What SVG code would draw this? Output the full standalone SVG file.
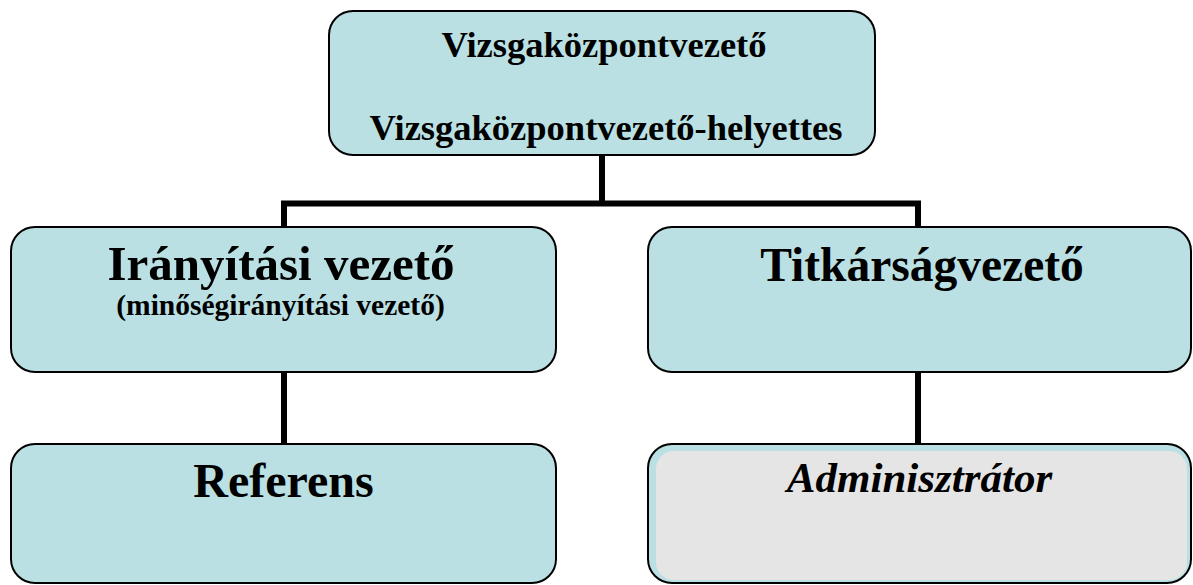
<svg xmlns="http://www.w3.org/2000/svg" width="1193" height="585" viewBox="0 0 1193 585">
  <style>
    .box { fill: #bae0e3; stroke: #000; stroke-width: 2; }
    .t { font-family: "Liberation Serif", "Times New Roman", serif; fill: #000; text-anchor: middle; }
    .b { font-weight: bold; }
    .conn { stroke: #000; stroke-width: 6; fill: none; stroke-linecap: butt; }
  </style>
  <rect width="1193" height="585" fill="#fff"/>
  <g id="connectors">
    <line class="conn" x1="602" y1="155" x2="602" y2="203.5"/>
    <line class="conn" x1="281" y1="203.5" x2="921" y2="203.5"/>
    <line class="conn" x1="284" y1="203.5" x2="284" y2="227"/>
    <line class="conn" x1="918" y1="203.5" x2="918" y2="227"/>
    <line class="conn" x1="284" y1="372" x2="284" y2="444"/>
    <line class="conn" x1="918" y1="372" x2="918" y2="444"/>
  </g>
  <g id="node-vizsgakozpontvezeto">
    <rect class="box" x="329" y="11" width="546" height="144" rx="24"/>
    <text class="t b" x="604" y="57" font-size="36.5">Vizsgaközpontvezető</text>
    <text class="t b" x="606" y="140" font-size="36.5">Vizsgaközpontvezető-helyettes</text>
  </g>
  <g id="node-iranyitasi">
    <rect class="box" x="11" y="227" width="545" height="145" rx="24"/>
    <text class="t b" x="281" y="280" font-size="49">Irányítási vezető</text>
    <text class="t b" x="280.5" y="315" font-size="29.5">(minőségirányítási vezető)</text>
  </g>
  <g id="node-titkarsag">
    <rect class="box" x="648" y="227" width="543" height="145" rx="24"/>
    <text class="t b" x="922" y="281" font-size="47.5">Titkárságvezető</text>
  </g>
  <g id="node-referens">
    <rect class="box" x="11" y="444" width="545" height="139" rx="24"/>
    <text class="t b" x="283.5" y="497" font-size="48">Referens</text>
  </g>
  <g id="node-adminisztrator">
    <rect class="box" x="648" y="444" width="543" height="139" rx="24"/>
    <rect x="656" y="451" width="531" height="129" rx="18" fill="#e5e5e5"/>
    <text class="t b" x="919.5" y="492" font-size="43" font-style="italic">Adminisztrátor</text>
  </g>
</svg>
